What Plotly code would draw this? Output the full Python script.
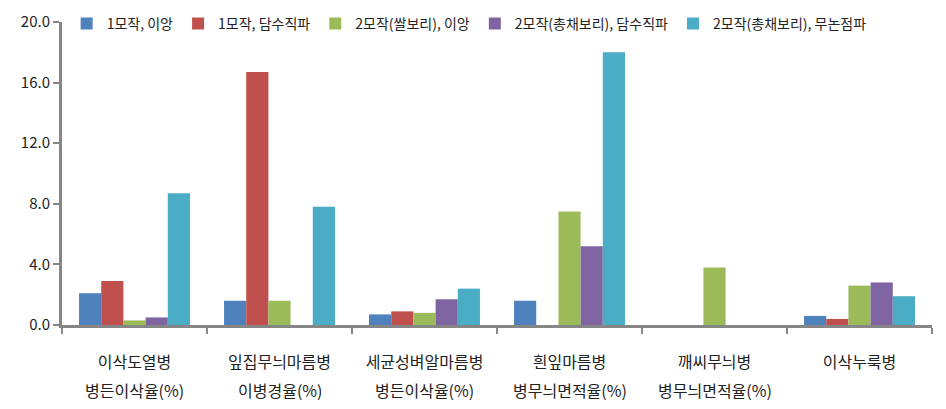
import plotly.graph_objects as go

categories = ["이삭도열병", "잎집무늬마름병", "세균성벼알마름병", "흰잎마름병", "깨씨무늬병", "이삭누룩병"]
subtitles = ["병든이삭율(%)", "이병경율(%)", "병든이삭율(%)", "병무늬면적율(%)", "병무늬면적율(%)", ""]
series_names = ["1모작, 이앙", "1모작, 담수직파", "2모작(쌀보리), 이앙", "2모작(총채보리), 담수직파", "2모작(총채보리), 무논점파"]
s1 = [2.1, 1.6, 0.7, 1.6, 0.0, 0.6]
s2 = [2.9, 16.7, 0.9, 0.0, 0.0, 0.4]
s3 = [0.3, 1.6, 0.8, 7.5, 3.8, 2.6]
s4 = [0.5, 0.0, 1.7, 5.2, 0.0, 2.8]
s5 = [8.7, 7.8, 2.4, 18.0, 0.0, 1.9]
colors = ["#4F81BD", "#C0504D", "#9BBB59", "#8064A2", "#4BACC6"]

font = "Noto Sans CJK KR"
fig = go.Figure()
for name, vals, c in zip(series_names, [s1, s2, s3, s4, s5], colors):
    fig.add_trace(go.Bar(x=categories, y=vals, name=name, marker=dict(color=c, line=dict(width=0))))

for cat, sub in zip(categories, subtitles):
    if sub:
        fig.add_annotation(x=cat, xref="x", y=0, yref="paper", yanchor="middle",
                           text=sub, showarrow=False, yshift=-65,
                           font=dict(family=font, size=16, color="#222222"))

fig.update_layout(
    width=946, height=409,
    margin=dict(l=54, r=22, t=14, b=92, autoexpand=False),
    paper_bgcolor="white", plot_bgcolor="white",
    barmode="group", bargap=0.235, bargroupgap=0,
    font=dict(family=font, size=14, color="#222222"),
    legend=dict(orientation="h", xref="container", x=0.062, xanchor="left",
                yref="container", y=1.0, yanchor="top",
                font=dict(family=font, size=14, color="#222222"),
                bgcolor="rgba(0,0,0,0)", itemwidth=30, tracegroupgap=0),
    xaxis=dict(showline=True, linecolor="#868686", linewidth=3, ticks="outside",
               tickson="boundaries", ticklen=6, tickcolor="#868686", tickwidth=2,
               ticklabelstandoff=21, automargin=False,
               tickfont=dict(family=font, size=16, color="#222222"), showgrid=False),
    yaxis=dict(range=[0, 20], dtick=4, tickformat=".1f", showline=True, linecolor="#868686",
               linewidth=3, ticks="outside", ticklen=6, tickcolor="#868686", tickwidth=2,
               showgrid=False, zeroline=False, automargin=False,
               tickfont=dict(family=font, size=15, color="#222222")),
)
fig.write_html("out.html")
